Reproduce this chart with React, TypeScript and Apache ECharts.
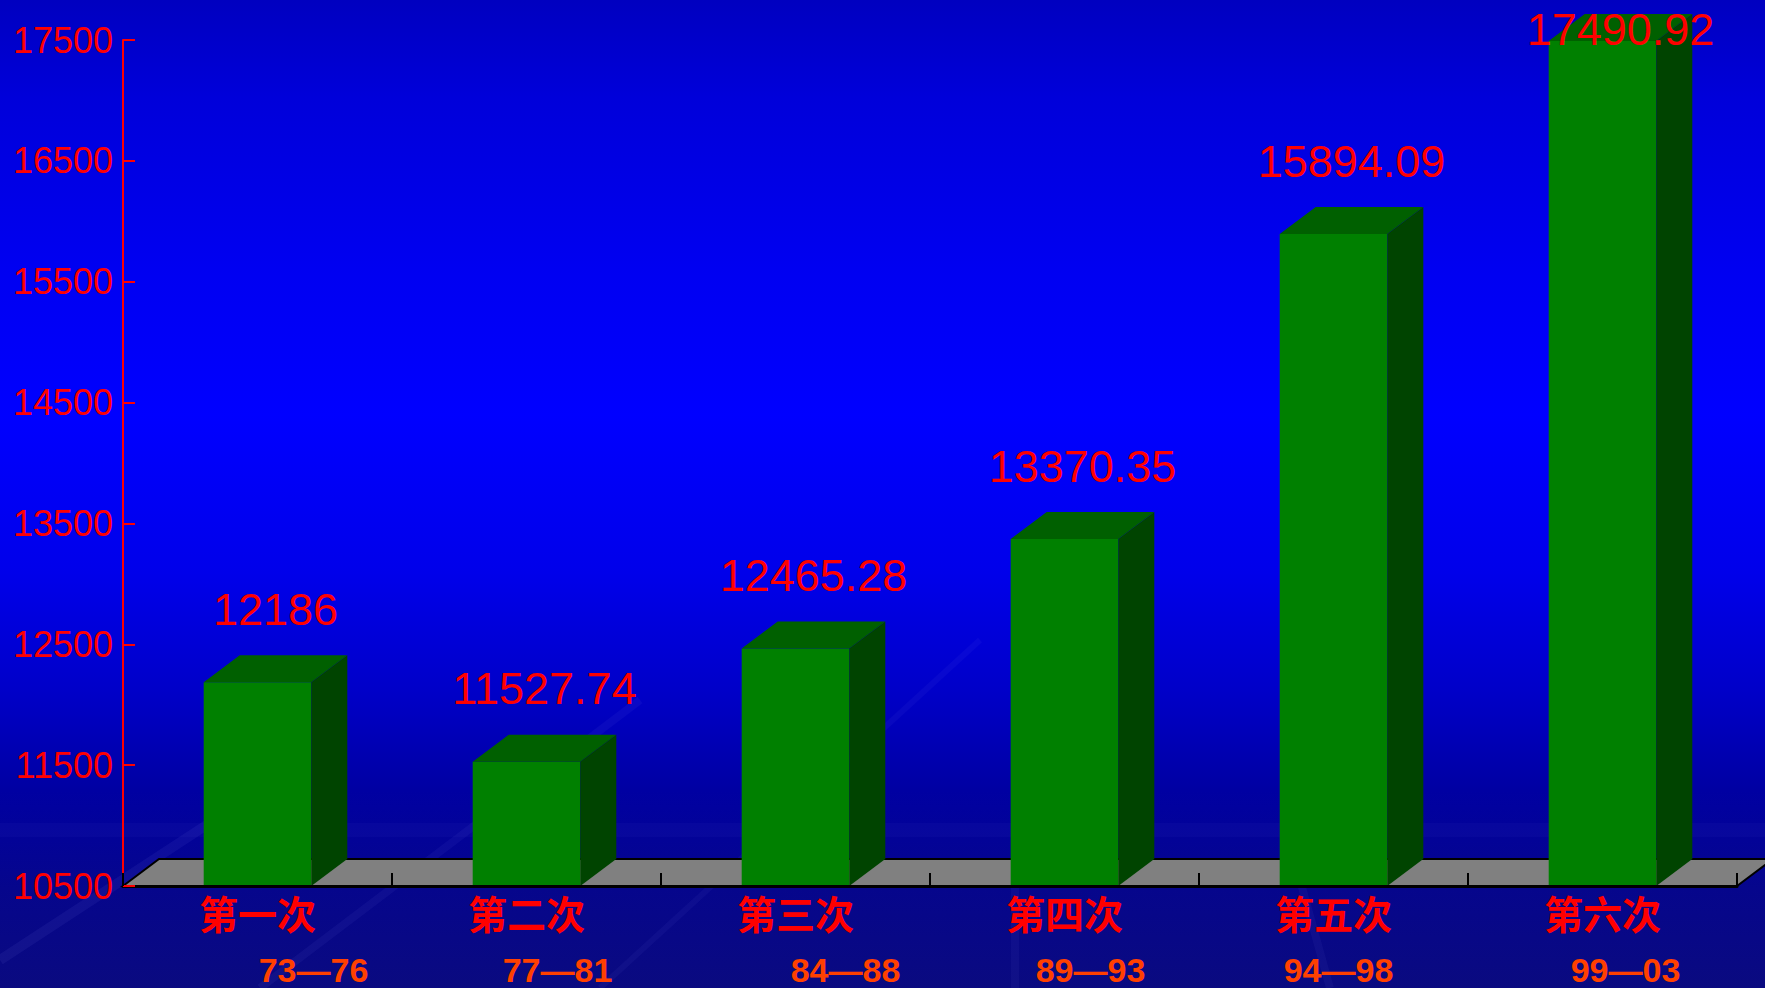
import React, { useEffect, useRef } from "react";
import * as echarts from "echarts";

// ---- data ----
const CATEGORIES = ["第一次", "第二次", "第三次", "第四次", "第五次", "第六次"];
const PERIODS = ["73—76", "77—81", "84—88", "89—93", "94—98", "99—03"];
const VALUES = [12186, 11527.74, 12465.28, 13370.35, 15894.09, 17490.92];
const Y_TICKS = [10500, 11500, 12500, 13500, 14500, 15500, 16500, 17500];
const Y_MIN = 10500;
const Y_MAX = 17500;

// ---- layout ----
const PERIOD_OFFSETS = [56, 31, 50, 26, 5, 23];
const DX = 36;
const DY = 27;

export default function App() {
  const ref = useRef<HTMLDivElement>(null);

  useEffect(() => {
    if (!ref.current) return;
    const chart = echarts.init(ref.current, undefined, { renderer: "svg" });

    const streak = (x1: number, y1: number, x2: number, y2: number, w: number, o: number) => ({
      type: "line",
      silent: true,
      z: -10,
      shape: { x1, y1, x2, y2 },
      style: { stroke: `rgba(150,160,255,${o})`, lineWidth: w },
    });

    const option: any = {
      animation: false,
      backgroundColor: new echarts.graphic.LinearGradient(0, 0, 0, 1, [
        { offset: 0, color: "#0000C0" },
        { offset: 0.1, color: "#0000DA" },
        { offset: 0.28, color: "#0000F2" },
        { offset: 0.42, color: "#0000FF" },
        { offset: 0.58, color: "#0000EA" },
        { offset: 0.7, color: "#0000C8" },
        { offset: 0.8, color: "#0000A2" },
        { offset: 0.9, color: "#06068C" },
        { offset: 1, color: "#0A0A80" },
      ]),
      graphic: [
        streak(0, 960, 260, 790, 10, 0.07),
        streak(260, 988, 640, 700, 8, 0.06),
        streak(600, 988, 980, 640, 6, 0.05),
        streak(0, 830, 1765, 830, 14, 0.04),
        streak(1015, 880, 1015, 988, 8, 0.05),
        streak(1300, 880, 1330, 988, 8, 0.05),
      ],
      grid: { left: 123, right: 28, top: 40, bottom: 102 },
      xAxis: {
        type: "category",
        data: CATEGORIES,
        boundaryGap: true,
        z: 5,
        axisLine: { show: true, lineStyle: { color: "#000000", width: 3 } },
        axisTick: {
          show: true,
          inside: true,
          length: 13,
          lineStyle: { color: "#000000", width: 2 },
        },
        axisLabel: {
          color: "#FF0000",
          fontSize: 39,
          fontWeight: "bold",
          fontFamily: "Noto Sans CJK SC",
          margin: 6,
        },
        splitLine: { show: false },
      },
      yAxis: {
        type: "value",
        min: Y_MIN,
        max: Y_MAX,
        z: 5,
        axisLine: { show: true, lineStyle: { color: "#FF0000", width: 2 } },
        axisTick: {
          show: true,
          inside: true,
          length: 12,
          lineStyle: { color: "#FF0000", width: 2 },
          customValues: Y_TICKS,
        },
        axisLabel: {
          customValues: Y_TICKS,
          formatter: (v: number) => String(v),
          color: "#FF0000",
          fontSize: 36,
          fontFamily: "Liberation Sans, Arial, sans-serif",
          margin: 10,
        },
        splitLine: { show: false },
      },
      series: [
        {
          type: "custom",
          z: 1,
          silent: true,
          data: [[0, Y_MIN]],
          renderItem: (params: any) => {
            const cs = params.coordSys;
            const x0 = cs.x;
            const x1 = cs.x + cs.width;
            const yb = cs.y + cs.height;
            return {
              type: "polygon",
              shape: {
                points: [
                  [x0, yb],
                  [x0 + DX, yb - DY],
                  [x1 + DX, yb - DY],
                  [x1, yb],
                ],
              },
              style: { fill: "#808080", stroke: "#000000", lineWidth: 2 },
            };
          },
        },
        {
          type: "custom",
          z: 2,
          data: VALUES.map((v, i) => [i, v]),
          encode: { x: 0, y: 1 },
          renderItem: (params: any, api: any) => {
            const idx = api.value(0);
            const v = api.value(1);
            const top = api.coord([idx, v]);
            const base = api.coord([idx, Y_MIN]);
            const bw = api.size([1, 0])[0] * 0.4;
            const cx = top[0];
            const x0 = cx - bw / 2;
            const x1 = cx + bw / 2;
            const yT = top[1];
            const yB = base[1];
            const labelY = Math.max(yT - DY - 46, 29);
            const i = params.dataIndex;
            return {
              type: "group",
              children: [
                {
                  type: "rect",
                  shape: { x: x0, y: yT, width: bw, height: yB - yT },
                  style: { fill: "#008000" },
                },
                {
                  type: "polygon",
                  shape: {
                    points: [
                      [x0, yT],
                      [x0 + DX, yT - DY],
                      [x1 + DX, yT - DY],
                      [x1, yT],
                    ],
                  },
                  style: { fill: "#006000" },
                },
                {
                  type: "polygon",
                  shape: {
                    points: [
                      [x1, yT],
                      [x1 + DX, yT - DY],
                      [x1 + DX, yB - DY],
                      [x1, yB],
                    ],
                  },
                  style: { fill: "#004400" },
                },
                {
                  type: "text",
                  z2: 10,
                  style: {
                    x: cx + DX / 2,
                    y: labelY,
                    text: String(VALUES[i]),
                    fill: "#FF0000",
                    fontSize: 45,
                    fontFamily: "Liberation Sans, Arial, sans-serif",
                    align: "center",
                    verticalAlign: "middle",
                  },
                },
                {
                  type: "text",
                  style: {
                    x: cx + PERIOD_OFFSETS[i],
                    y: yB + 84,
                    text: PERIODS[i],
                    fill: "#FF4000",
                    fontSize: 34,
                    fontWeight: "bold",
                    fontFamily: "Liberation Sans, Arial, sans-serif",
                    align: "center",
                    verticalAlign: "middle",
                  },
                },
              ],
            };
          },
        },
      ],
    };

    chart.setOption(option);
    return () => {
      chart.dispose();
    };
  }, []);

  return (
    <div
      ref={ref}
      style={{ position: "fixed", left: 0, top: 0, width: 1765, height: 988 }}
    />
  );
}
